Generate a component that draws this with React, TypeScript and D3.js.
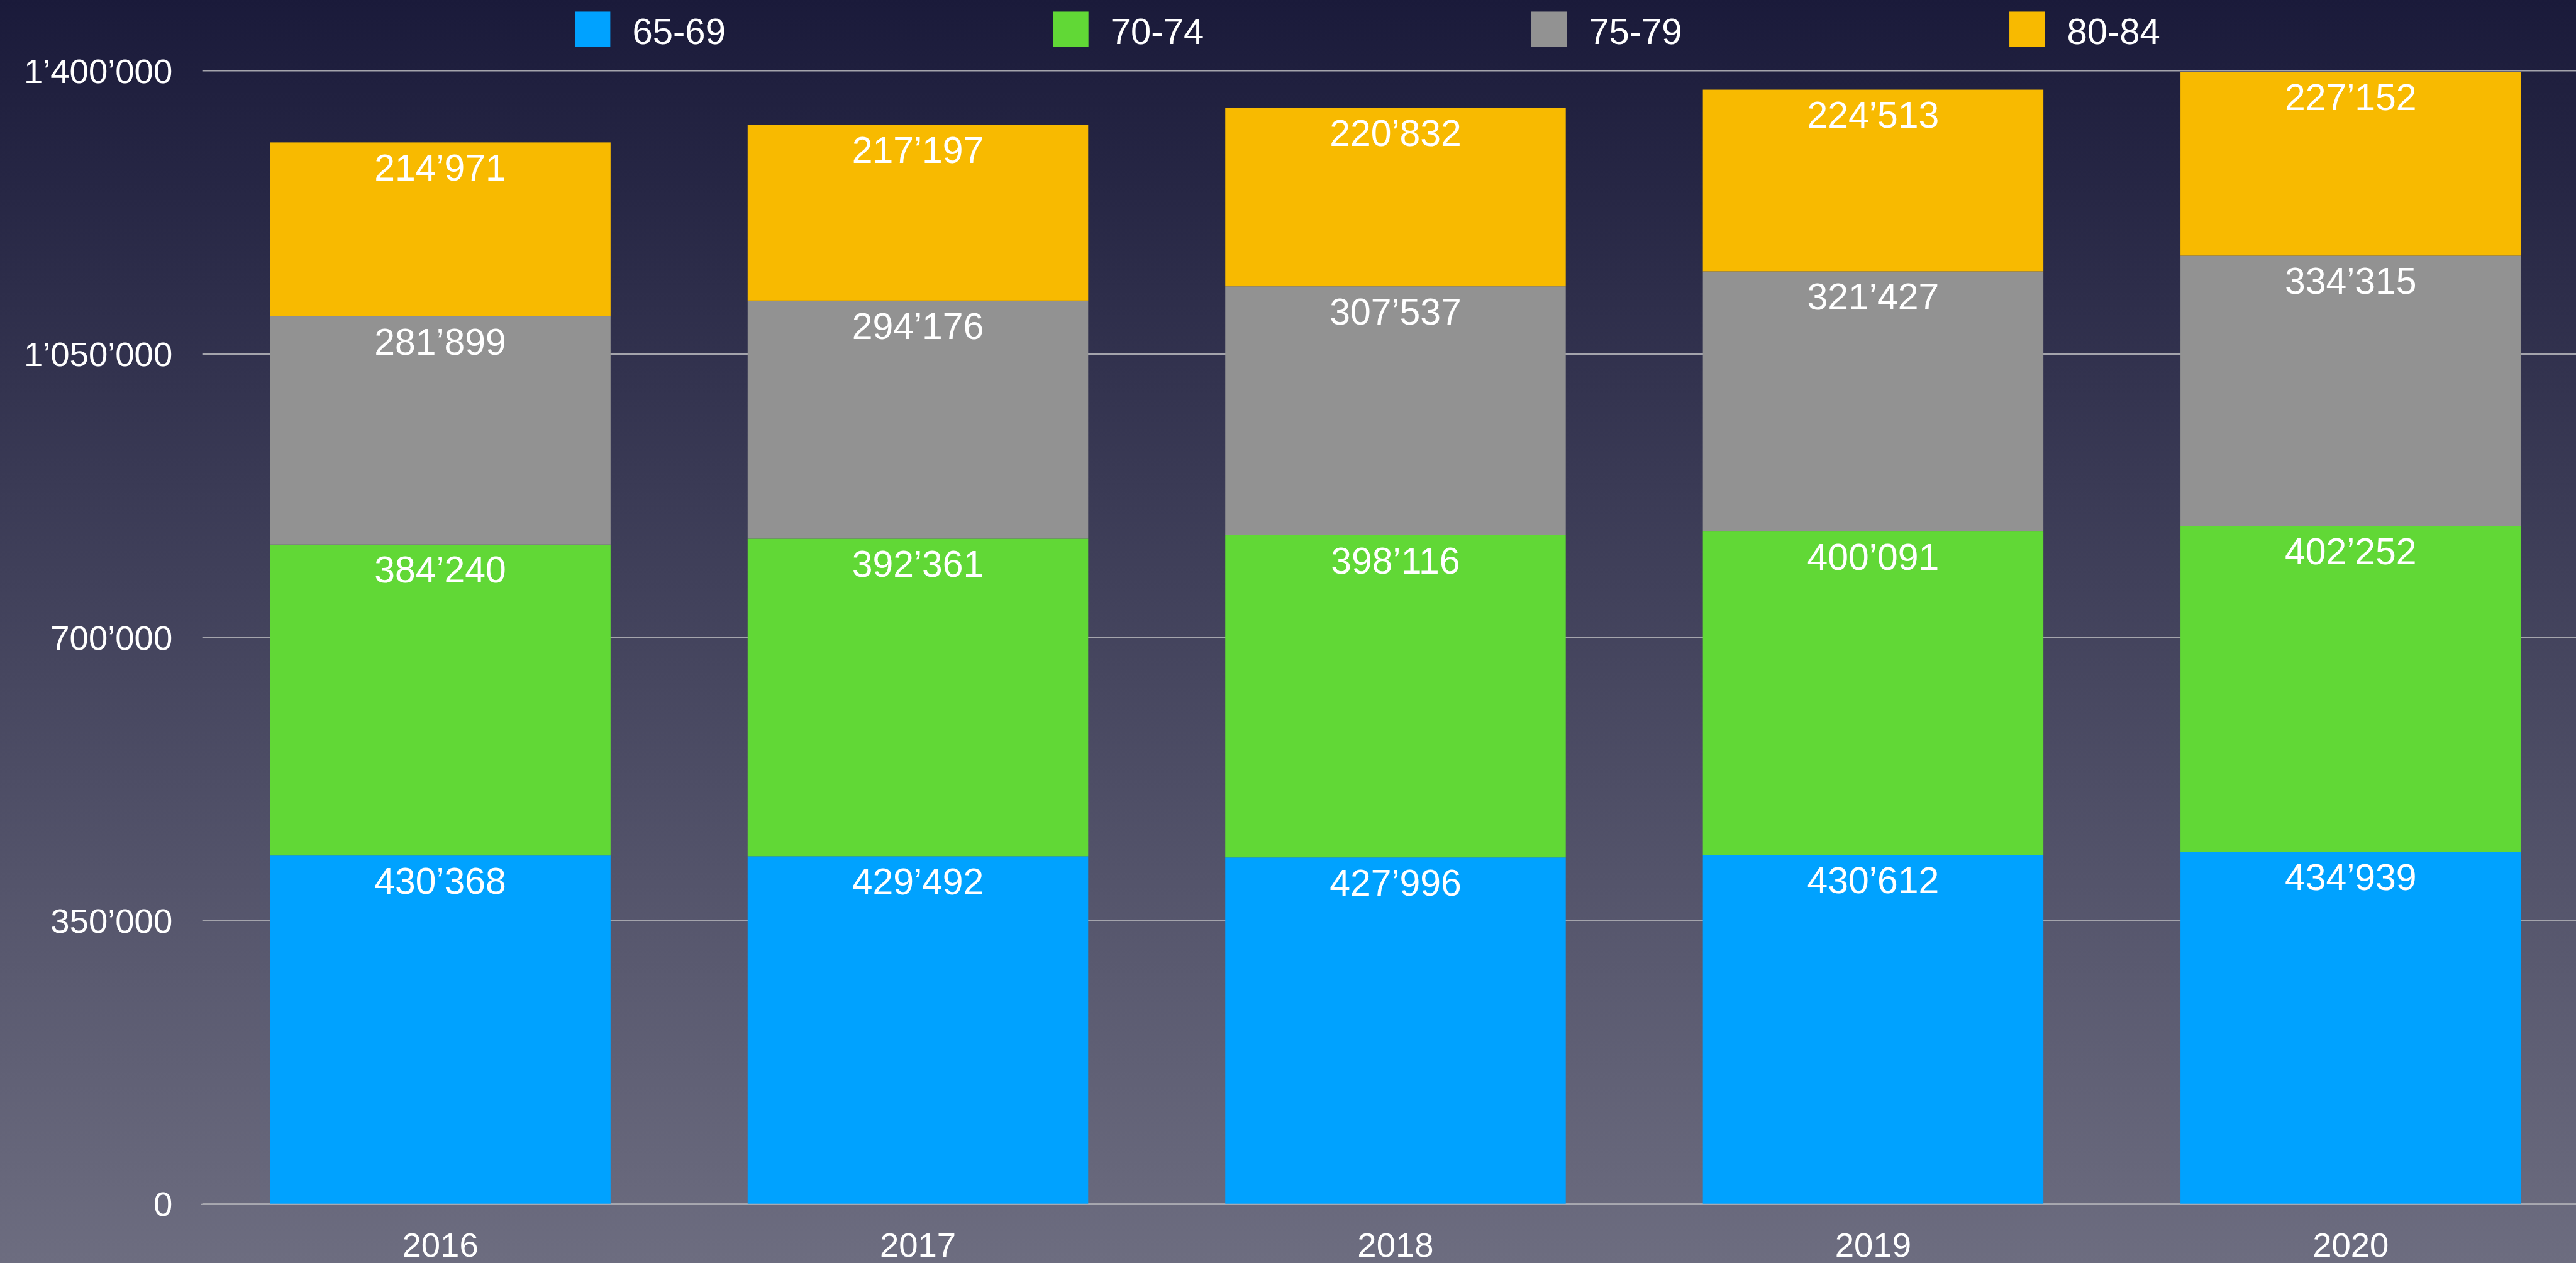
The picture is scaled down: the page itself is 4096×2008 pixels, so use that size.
import React from "react";
import * as d3 from "d3";

const years = ["2016", "2017", "2018", "2019", "2020"];
const seriesNames = ["65-69", "70-74", "75-79", "80-84"];
const s6569 = [430368, 429492, 427996, 430612, 434939];
const s7074 = [384240, 392361, 398116, 400091, 402252];
const s7579 = [281899, 294176, 307537, 321427, 334315];
const s8084 = [214971, 217197, 220832, 224513, 227152];
const yTicks = [0, 350000, 700000, 1050000, 1400000];
const colors = ["#00A2FF", "#61D836", "#929292", "#F8BA00"];

const W = 4660;
const H = 2285;
const FONT = "'Liberation Sans', Arial, Helvetica, sans-serif";

const fmt = (v: number) => d3.format(",")(v).replace(/,/g, "\u2019");

export default function App() {
  const rows = years.map((y, i) => ({
    year: y,
    "65-69": s6569[i],
    "70-74": s7074[i],
    "75-79": s7579[i],
    "80-84": s8084[i],
  }));
  const stacked = d3.stack<any>().keys(seriesNames)(rows);

  const x = d3
    .scaleBand<string>()
    .domain(years)
    .range([364.5, 4684.5])
    .paddingInner(0.287)
    .paddingOuter(0.1435);
  const y = d3.scaleLinear().domain([0, 1400000]).range([2178, 128]);

  const legendX = d3.scaleBand<string>().domain(seriesNames).range([1040, 1040 + 865 * 4]);

  return (
    <svg
      width={4096}
      height={2008}
      viewBox={`0 0 ${W} ${H}`}
      preserveAspectRatio="none"
      style={{ position: "absolute", left: 0, top: 0, display: "block" }}
    >
      <defs>
        <linearGradient id="bg" x1="0" y1="0" x2="0" y2="1">
          <stop offset="0" stopColor="#1A1A3A" />
          <stop offset="1" stopColor="#6D6D80" />
        </linearGradient>
      </defs>
      <rect x={-5} y={-5} width={W + 10} height={H + 10} fill="url(#bg)" />

      {/* gridlines */}
      {yTicks.map((t) => (
        <g key={t}>
          <line x1={366} x2={W} y1={y(t)} y2={y(t)} stroke="#A4A4AC" strokeWidth={2.5} />
          <text
            x={312}
            y={y(t)}
            dy="0.355em"
            textAnchor="end"
            fill="#FFFFFF"
            fontFamily={FONT}
            fontSize={62}
          >
            {fmt(t)}
          </text>
        </g>
      ))}

      {/* bars */}
      {stacked.map((layer, si) => (
        <g key={layer.key} fill={colors[si]}>
          {layer.map((d: any, i: number) => (
            <rect
              key={i}
              x={x(years[i])}
              y={y(d[1])}
              width={x.bandwidth()}
              height={y(d[0]) - y(d[1])}
            />
          ))}
        </g>
      ))}

      {/* zero axis line over bars */}
      <line x1={364} x2={W} y1={y(0) + 1} y2={y(0) + 1} stroke="#A8A8B0" strokeWidth={2.5} />

      {/* value labels */}
      {stacked.map((layer) => (
        <g key={"l" + layer.key}>
          {layer.map((d: any, i: number) => (
            <text
              key={i}
              x={(x(years[i]) as number) + x.bandwidth() / 2}
              y={y(d[1]) + 69}
              textAnchor="middle"
              fill="#FFFFFF"
              fontFamily={FONT}
              fontSize={67}
            >
              {fmt(d[1] - d[0])}
            </text>
          ))}
        </g>
      ))}

      {/* x labels */}
      {years.map((yr) => (
        <text
          key={yr}
          x={(x(yr) as number) + x.bandwidth() / 2}
          y={2274}
          textAnchor="middle"
          fill="#FFFFFF"
          fontFamily={FONT}
          fontSize={62}
        >
          {yr}
        </text>
      ))}

      {/* legend */}
      {seriesNames.map((n, i) => (
        <g key={n} transform={`translate(${legendX(n)},0)`}>
          <rect x={0} y={21} width={64} height={64} fill={colors[i]} />
          <text x={104} y={80} fill="#FFFFFF" fontFamily={FONT} fontSize={66}>
            {n}
          </text>
        </g>
      ))}
    </svg>
  );
}
